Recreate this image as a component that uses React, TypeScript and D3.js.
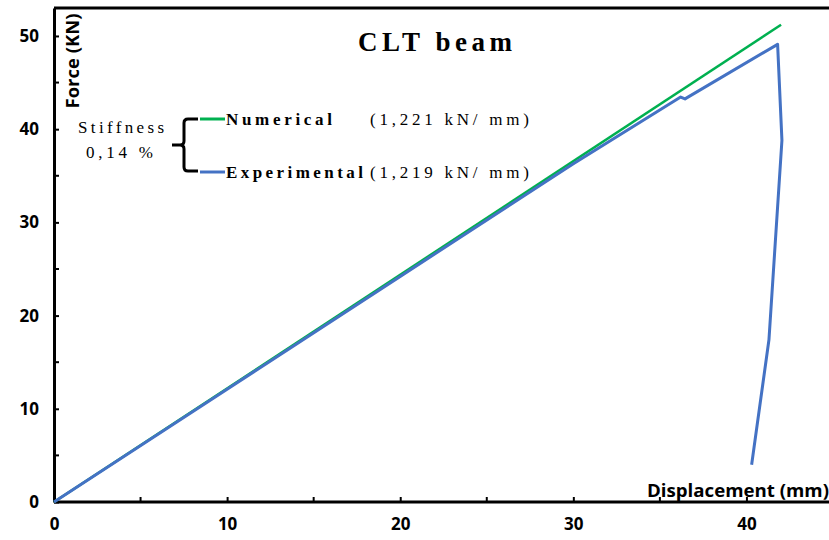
import { useEffect, useRef } from "react";
import * as d3 from "d3";

// Numerical (FE) curve: displacement (mm) / force (kN)
const numDisp = [0, 42];
const numForce = [0, 51.2];

// Experimental curve
const expDisp = [0, 10, 20, 30, 36.2, 36.45, 41.8, 42.05, 41.3, 40.3];
const expForce = [0, 12.1, 24.2, 36.3, 43.45, 43.25, 49.1, 38.8, 17.4, 4.0];

const xMajor = [0, 10, 20, 30, 40];
const xMinor = [5, 15, 25, 35];
const yMajor = [0, 10, 20, 30, 40, 50];
const yMinor = [5, 15, 25, 35, 45];

const W = 829;
const H = 540;
const sans = "'Open Sans', 'DejaVu Sans', sans-serif";
const serif = "'Liberation Serif', 'Times New Roman', serif";

export default function App() {
  const svgRef = useRef<SVGSVGElement>(null);

  useEffect(() => {
    if (!svgRef.current) return;
    const svg = d3.select(svgRef.current);
    svg.selectAll("*").remove();

    const x = d3.scaleLinear().domain([0, 45]).range([54, 833]);
    const y = d3.scaleLinear().domain([0, 53]).range([502, 8]);

    // Top frame line
    svg.append("line")
      .attr("x1", x(0)).attr("x2", W)
      .attr("y1", y(53)).attr("y2", y(53))
      .attr("stroke", "#000").attr("stroke-width", 3);

    // X axis
    const xAxis = svg.append("g")
      .attr("transform", `translate(0,${y(0)})`)
      .call(d3.axisBottom(x).tickValues(xMajor).tickSize(-5).tickPadding(16).tickSizeOuter(0));
    xAxis.select(".domain").attr("stroke-width", 3).attr("d", `M${x(0)},0H${W}`);
    xAxis.selectAll(".tick line").attr("stroke-width", 2);
    xAxis.selectAll("text")
      .attr("font-family", sans).attr("font-weight", "bold").attr("font-size", 17).attr("fill", "#000");
    svg.append("g").selectAll("line").data(xMinor).join("line")
      .attr("x1", d => x(d)).attr("x2", d => x(d))
      .attr("y1", y(0)).attr("y2", y(0) - 5)
      .attr("stroke", "#000").attr("stroke-width", 2);

    // Y axis
    const yAxis = svg.append("g")
      .attr("transform", `translate(${x(0)},0)`)
      .call(d3.axisLeft(y).tickValues(yMajor).tickSize(-5).tickPadding(15).tickSizeOuter(0));
    yAxis.select(".domain").attr("stroke-width", 3);
    yAxis.selectAll(".tick line").attr("stroke-width", 2);
    yAxis.selectAll("text")
      .attr("font-family", sans).attr("font-weight", "bold").attr("font-size", 17).attr("fill", "#000");
    svg.append("g").selectAll("line").data(yMinor).join("line")
      .attr("x1", x(0)).attr("x2", x(0) + 5)
      .attr("y1", d => y(d)).attr("y2", d => y(d))
      .attr("stroke", "#000").attr("stroke-width", 2);

    // Curves
    const numPts: [number, number][] = numDisp.map((d, i) => [x(d), y(numForce[i])]);
    const expPts: [number, number][] = expDisp.map((d, i) => [x(d), y(expForce[i])]);
    const path = d3.line();
    svg.append("path").attr("d", path(numPts)).attr("fill", "none")
      .attr("stroke", "#00B050").attr("stroke-width", 2.5);
    svg.append("path").attr("d", path(expPts)).attr("fill", "none")
      .attr("stroke", "#4472C4").attr("stroke-width", 3).attr("stroke-linejoin", "round");

    // Axis titles
    svg.append("text")
      .attr("transform", `translate(79,61) rotate(-90)`)
      .attr("text-anchor", "middle")
      .attr("font-family", sans).attr("font-weight", "bold").attr("font-size", 18)
      .attr("textLength", 95).attr("lengthAdjust", "spacingAndGlyphs")
      .text("Force (KN)");
    svg.append("text")
      .attr("x", 647).attr("y", 497)
      .attr("font-family", sans).attr("font-weight", "bold").attr("font-size", 18)
      .attr("textLength", 182).attr("lengthAdjust", "spacingAndGlyphs")
      .text("Displacement (mm)");

    // Title
    svg.append("text")
      .attr("x", 358).attr("y", 51)
      .attr("textLength", 154).attr("lengthAdjust", "spacing")
      .attr("font-family", serif).attr("font-weight", "bold").attr("font-size", 27)
      .text("CLT beam");

    // Legend
    const legend = [
      { name: "Numerical", value: "(1,221 kN/ mm)", color: "#00B050", y: 119, nameLen: 106 },
      { name: "Experimental", value: "(1,219 kN/ mm)", color: "#4472C4", y: 172, nameLen: 137 },
    ];
    legend.forEach(l => {
      svg.append("line")
        .attr("x1", 200).attr("x2", 225).attr("y1", l.y).attr("y2", l.y)
        .attr("stroke", l.color).attr("stroke-width", 3);
      svg.append("text")
        .attr("x", 226).attr("y", l.y + 6)
        .attr("textLength", l.nameLen).attr("lengthAdjust", "spacing")
        .attr("font-family", serif).attr("font-weight", "bold").attr("font-size", 17)
        .text(l.name);
      svg.append("text")
        .attr("x", 370).attr("y", l.y + 6)
        .attr("textLength", 159).attr("lengthAdjust", "spacing")
        .attr("font-family", serif).attr("font-size", 17)
        .text(l.value);
    });

    // Brace
    svg.append("path")
      .attr("d", "M198,119 H188 Q184,119 184,123 V141 Q184,145 180,145 H172 M180,145 Q184,145 184,149 V167 Q184,171 188,171 H198")
      .attr("fill", "none").attr("stroke", "#000").attr("stroke-width", 3);

    svg.append("text")
      .attr("x", 78).attr("y", 133)
      .attr("textLength", 86).attr("lengthAdjust", "spacing")
      .attr("font-family", serif).attr("font-size", 17)
      .text("Stiffness");
    svg.append("text")
      .attr("x", 86).attr("y", 158)
      .attr("textLength", 67).attr("lengthAdjust", "spacing")
      .attr("font-family", serif).attr("font-size", 17)
      .text("0,14 %");
  }, []);

  return (
    <svg
      ref={svgRef}
      width={W}
      height={H}
      style={{ position: "absolute", left: 0, top: 0, background: "#fff" }}
    />
  );
}
